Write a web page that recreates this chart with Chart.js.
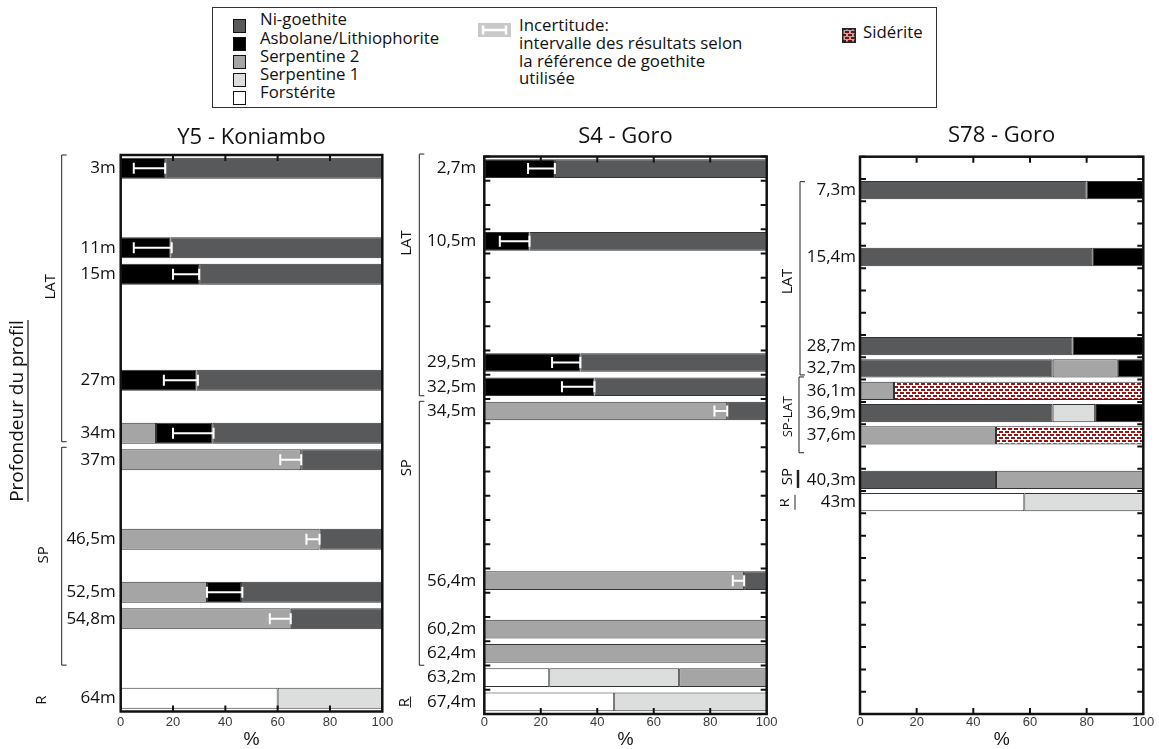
<!DOCTYPE html>
<html>
<head>
<meta charset="utf-8">
<title>Profils</title>
<script src="https://cdn.jsdelivr.net/npm/chart.js"></script>
<style>
  body { margin: 0; background: #fff; width: 1159px; height: 749px; position: relative; overflow: hidden; font-family: 'Open Sans', sans-serif; color: #111; }
  .panel { position: absolute; top: 110px; }
  .panel canvas { display: block; }
  #legend { position: absolute; left: 212px; top: 7px; width: 725px; height: 101px; border: 1px solid #333; box-sizing: border-box; }
  .sw { position: absolute; width: 13px; height: 14px; border: 1px solid #111; box-sizing: border-box; }
  .lt { position: absolute; font-size: 16.8px; line-height: 18px; white-space: nowrap; }
</style>
</head>
<body>

<div id="legend"></div>
<div class="sw" style="left:233px;top:19px;background:#58595b"></div>
<div class="lt" style="left:260px;top:10px">Ni-goethite</div>
<div class="sw" style="left:233px;top:37px;background:#000"></div>
<div class="lt" style="left:260px;top:28.5px">Asbolane/Lithiophorite</div>
<div class="sw" style="left:233px;top:55px;background:#a5a5a5"></div>
<div class="lt" style="left:260px;top:46.5px">Serpentine 2</div>
<div class="sw" style="left:233px;top:73px;background:#dcdddd"></div>
<div class="lt" style="left:260px;top:65px">Serpentine 1</div>
<div class="sw" style="left:233px;top:91px;background:#fff"></div>
<div class="lt" style="left:260px;top:83px">Forstérite</div>

<svg style="position:absolute;left:478px;top:23px" width="33" height="14">
  <rect width="33" height="14" fill="#c8c8c8"/>
  <path d="M5 7H28M5 2.5V11.5M28 2.5V11.5" stroke="#fff" stroke-width="2.5" fill="none"/>
</svg>
<div class="lt" style="left:519px;top:16px;line-height:17.8px">Incertitude:<br>intervalle des résultats selon<br>la référence de goethite<br>utilisée</div>

<canvas id="sidSwatch" width="14" height="15" style="position:absolute;left:842px;top:28px"></canvas>
<div class="lt" style="left:863px;top:23px">Sidérite</div>

<div class="panel" style="left:0px"><canvas id="y5" width="400" height="641"></canvas></div>
<div class="panel" style="left:390px"><canvas id="s4" width="390" height="641"></canvas></div>
<div class="panel" style="left:780px"><canvas id="s78" width="379" height="641"></canvas></div>

<script>
const _ = null;

// Y5 - Koniambo
const y5Labels    = ['3m', '', '', '11m', '15m', '', '', '', '27m', '', '34m', '37m', '', '', '46,5m', '', '52,5m', '54,8m', '', '', '64m'];
const y5Forst     = [_, _, _, _, _, _, _, _, _, _, _, _, _, _, _, _, _, _, _, _, 60];
const y5Serp1     = [_, _, _, _, _, _, _, _, _, _, _, _, _, _, _, _, _, _, _, _, 40];
const y5Serp2     = [_, _, _, _, _, _, _, _, _, _, 13.5, 69, _, _, 76, _, 33, 65, _, _, _];
const y5Asbolane  = [17, _, _, 19, 30, _, _, _, 29, _, 21.5, _, _, _, _, _, 13, _, _, _, _];
const y5Goethite  = [83, _, _, 81, 70, _, _, _, 71, _, 65, 31, _, _, 24, _, 54, 35, _, _, _];
const y5ErrLow    = [5, _, _, 5, 20, _, _, _, 16.5, _, 20, 61, _, _, 71, _, 33, 57, _, _, _];
const y5ErrHigh   = [17, _, _, 19.5, 30, _, _, _, 29.5, _, 35.5, 69, _, _, 76, _, 46.5, 65, _, _, _];

// S4 - Goro
const s4Labels    = ['2,7m', '', '', '10,5m', '', '', '', '', '29,5m', '32,5m', '34,5m', '', '', '', '', '', '', '56,4m', '', '60,2m', '62,4m', '63,2m', '67,4m'];
const s4Forst     = [_, _, _, _, _, _, _, _, _, _, _, _, _, _, _, _, _, _, _, _, _, 23, 46];
const s4Serp1     = [_, _, _, _, _, _, _, _, _, _, _, _, _, _, _, _, _, _, _, _, _, 46, 54];
const s4Serp2     = [_, _, _, _, _, _, _, _, _, _, 86, _, _, _, _, _, _, 92, _, 100, 100, 31, _];
const s4Asbolane  = [25, _, _, 16, _, _, _, _, 34, 39, _, _, _, _, _, _, _, _, _, _, _, _, _];
const s4Goethite  = [75, _, _, 84, _, _, _, _, 66, 61, 14, _, _, _, _, _, _, 8, _, _, _, _, _];
const s4ErrLow    = [15.5, _, _, 5.5, _, _, _, _, 24, 27.5, 81.5, _, _, _, _, _, _, 88, _, _, _, _, _];
const s4ErrHigh   = [25, _, _, 16, _, _, _, _, 34, 39, 86, _, _, _, _, _, _, 92, _, _, _, _, _];

// S78 - Goro
const s78Labels   = ['', '7,3m', '', '', '15,4m', '', '', '', '28,7m', '32,7m', '36,1m', '36,9m', '37,6m', '', '40,3m', '43m', '', '', '', '', '', '', '', '', ''];
const s78Forst    = [_, _, _, _, _, _, _, _, _, _, _, _, _, _, _, 58, _, _, _, _, _, _, _, _, _];
const s78Goethite = [_, 80, _, _, 82, _, _, _, 75, 68, _, 68, _, _, 48, _, _, _, _, _, _, _, _, _, _];
const s78Serp1    = [_, _, _, _, _, _, _, _, _, _, _, 15, _, _, _, 42, _, _, _, _, _, _, _, _, _];
const s78Serp2    = [_, _, _, _, _, _, _, _, _, 23, 12, _, 48, _, 52, _, _, _, _, _, _, _, _, _, _];
const s78Siderite = [_, _, _, _, _, _, _, _, _, _, 88, _, 52, _, _, _, _, _, _, _, _, _, _, _, _];
const s78Asbolane = [_, 20, _, _, 18, _, _, _, 25, 9, _, 17, _, _, _, _, _, _, _, _, _, _, _, _, _];

const C = { goethite: '#58595b', asbolane: '#000000', serp2: '#a5a5a5', serp1: '#dcdddd', forst: '#ffffff' };

function sideritePattern(ctx) {
  const c = document.createElement('canvas');
  c.width = 6; c.height = 6;
  const g = c.getContext('2d');
  g.fillStyle = '#fff'; g.fillRect(0, 0, 6, 6);
  g.fillStyle = '#9a1515';
  g.fillRect(0, 0, 4, 2);
  g.fillRect(3, 3, 3, 2);
  g.fillRect(0, 3, 1, 2);
  return ctx.createPattern(c, 'repeat');
}

// legend swatch for siderite
(function () {
  const g = document.getElementById('sidSwatch').getContext('2d');
  g.fillStyle = sideritePattern(g); g.fillRect(0, 0, 14, 15);
  g.fillStyle = 'rgba(60,0,0,0.35)'; g.fillRect(0, 0, 14, 15);
  g.strokeStyle = '#222'; g.lineWidth = 1.5; g.strokeRect(0.75, 0.75, 12.5, 13.5);
})();

const decor = {
  id: 'decor',
  beforeDatasetsDraw(chart, args, o) {
    if (!o.yTicks) return;
    const { ctx, chartArea: a, scales: { y } } = chart;
    ctx.save();
    ctx.strokeStyle = '#111'; ctx.lineWidth = 2;
    ctx.beginPath();
    for (let i = 0; i <= chart.data.labels.length; i++) {
      const py = y.getPixelForValue(i - 0.5);
      ctx.moveTo(a.left, py); ctx.lineTo(a.left + 6, py);
      ctx.moveTo(a.right - 6, py); ctx.lineTo(a.right, py);
    }
    ctx.stroke();
    ctx.restore();
  },
  afterDatasetsDraw(chart, args, o) {
    const { ctx, chartArea: a, scales: { x, y } } = chart;
    ctx.save();
    // uncertainty intervals
    if (o.errLow) {
      ctx.strokeStyle = '#fff'; ctx.lineWidth = 2;
      o.errLow.forEach((lo, i) => {
        const hi = o.errHigh[i];
        if (lo == null) return;
        const py = y.getPixelForValue(i), x1 = x.getPixelForValue(lo), x2 = x.getPixelForValue(hi);
        ctx.beginPath();
        ctx.moveTo(x1, py); ctx.lineTo(x2, py);
        ctx.moveTo(x1, py - 5.5); ctx.lineTo(x1, py + 5.5);
        ctx.moveTo(x2, py - 5.5); ctx.lineTo(x2, py + 5.5);
        ctx.stroke();
      });
    }
    // inward x ticks, top and bottom
    ctx.strokeStyle = '#111'; ctx.lineWidth = 2;
    ctx.beginPath();
    x.ticks.forEach(t => {
      if (t.value <= 0 || t.value >= 100) return;
      const px = x.getPixelForValue(t.value);
      ctx.moveTo(px, a.top); ctx.lineTo(px, a.top + 6);
      ctx.moveTo(px, a.bottom); ctx.lineTo(px, a.bottom - 6);
    });
    ctx.stroke();
    // frame
    ctx.lineWidth = 2.5;
    ctx.strokeRect(a.left, a.top, a.right - a.left, a.bottom - a.top);
    // profile zones (brackets)
    ctx.strokeStyle = '#222'; ctx.fillStyle = '#111';
    (o.zones || []).forEach(z => {
      if (z.from != null) {
        const y1 = y.getPixelForValue(z.from), y2 = y.getPixelForValue(z.to);
        ctx.lineWidth = z.w || 1;
        ctx.beginPath();
        if (z.serif) {
          ctx.moveTo(z.x + 5, y1); ctx.lineTo(z.x, y1); ctx.lineTo(z.x, y2); ctx.lineTo(z.x + 5, y2);
        } else {
          ctx.moveTo(z.x, y1); ctx.lineTo(z.x, y2);
        }
        ctx.stroke();
      }
      ctx.save();
      ctx.translate(z.lx, y.getPixelForValue(z.ly));
      ctx.rotate(-Math.PI / 2);
      ctx.textAlign = 'center'; ctx.textBaseline = 'middle';
      ctx.font = (z.size || 15) + 'px "Open Sans"';
      ctx.fillText(z.label, 0, 0);
      ctx.restore();
    });
    // depth title
    if (o.depth) {
      const d = o.depth;
      ctx.save();
      ctx.translate(d.lx, y.getPixelForValue(d.ly));
      ctx.rotate(-Math.PI / 2);
      ctx.textAlign = 'center'; ctx.textBaseline = 'middle';
      ctx.font = '19px "Open Sans"';
      ctx.fillText(d.text, 0, 0);
      const w = ctx.measureText(d.text).width;
      ctx.lineWidth = 1.2; ctx.strokeStyle = '#111';
      ctx.beginPath(); ctx.moveTo(-w / 2, 10); ctx.lineTo(w / 2, 10); ctx.stroke();
      ctx.restore();
    }
    ctx.restore();
  }
};

function ds(label, data, color) {
  return { label, data, backgroundColor: color, borderColor: '#333', borderWidth: 1, borderSkipped: false };
}

function panel(id, o) {
  const ctx = document.getElementById(id).getContext('2d');
  return new Chart(ctx, {
    type: 'bar',
    data: { labels: o.labels, datasets: o.datasets },
    options: {
      indexAxis: 'y',
      responsive: false,
      animation: false,
      barPercentage: o.bar,
      categoryPercentage: 1,
      layout: { padding: { left: 0, right: o.padRight, top: 0, bottom: 0 } },
      plugins: {
        legend: { display: false },
        tooltip: { enabled: false },
        title: {
          display: true, text: o.title, fullSize: false, color: '#111',
          font: { family: 'Open Sans', size: 22, weight: 'normal' },
          padding: { top: o.titleTop, bottom: o.titleBottom }
        },
        decor: { errLow: o.errLow, errHigh: o.errHigh, zones: o.zones, yTicks: o.yTicks, depth: o.depth }
      },
      scales: {
        x: {
          type: 'linear', stacked: true, min: 0, max: 100,
          grid: { display: false, drawTicks: false }, border: { display: false },
          ticks: { stepSize: 20, padding: o.xPad, color: '#3a3a3a', font: { family: 'Liberation Sans', size: 13 } },
          title: { display: true, text: '%', color: '#111', font: { family: 'Liberation Sans', size: 18 }, padding: 0 },
          afterFit: s => { s.height = o.xHeight; }
        },
        y: {
          stacked: true,
          grid: { display: false, drawTicks: false }, border: { display: false },
          ticks: { autoSkip: false, padding: o.labelPad, color: '#111', font: { family: 'Open Sans', size: 17 } },
          afterFit: s => { s.width = o.left; }
        }
      }
    },
    plugins: [decor]
  });
}

panel('y5', {
  title: 'Y5 - Koniambo', labels: y5Labels,
  datasets: [
    ds('Forstérite', y5Forst, C.forst),
    ds('Serpentine 1', y5Serp1, C.serp1),
    ds('Serpentine 2', y5Serp2, C.serp2),
    ds('Asbolane/Lithiophorite', y5Asbolane, C.asbolane),
    ds('Ni-goethite', y5Goethite, C.goethite)
  ],
  errLow: y5ErrLow, errHigh: y5ErrHigh,
  bar: 0.79, left: 120.7, padRight: 17.7, xHeight: 39.5, xPad: 2.7, labelPad: 5,
  titleTop: 14.8, titleBottom: 3.8, yTicks: false,
  zones: [
    { label: 'LAT', x: 61.7, from: -0.5, to: 10.32, serif: true, lx: 51, ly: 4.47 },
    { label: 'SP', x: 61.7, from: 10.53, to: 18.75, serif: true, lx: 44, ly: 14.59 },
    { label: 'R', lx: 42, ly: 20.07 }
  ],
  depth: { text: 'Profondeur du profil', lx: 18, ly: 9.16 }
});

panel('s4', {
  title: 'S4 - Goro', labels: s4Labels,
  datasets: [
    ds('Forstérite', s4Forst, C.forst),
    ds('Serpentine 1', s4Serp1, C.serp1),
    ds('Serpentine 2', s4Serp2, C.serp2),
    ds('Asbolane/Lithiophorite', s4Asbolane, C.asbolane),
    ds('Ni-goethite', s4Goethite, C.goethite)
  ],
  errLow: s4ErrLow, errHigh: s4ErrHigh,
  bar: 0.77, left: 94.3, padRight: 13.3, xHeight: 37, xPad: 0.5, labelPad: 8,
  titleTop: 13.3, titleBottom: 6.8, yTicks: true,
  zones: [
    { label: 'LAT', x: 29.3, from: -0.6, to: 9.37, serif: true, lx: 16.7, ly: 3.07 },
    { label: 'SP', x: 29.3, from: 9.6, to: 20.49, serif: true, lx: 17, ly: 12.34 },
    { label: 'R', x: 20.5, from: 21.78, to: 22.23, lx: 15, ly: 22.03 }
  ]
});

const s78Ctx = document.getElementById('s78').getContext('2d');
panel('s78', {
  title: 'S78 - Goro', labels: s78Labels,
  datasets: [
    ds('Forstérite', s78Forst, C.forst),
    ds('Ni-goethite', s78Goethite, C.goethite),
    ds('Serpentine 1', s78Serp1, C.serp1),
    ds('Serpentine 2', s78Serp2, C.serp2),
    ds('Sidérite', s78Siderite, sideritePattern(s78Ctx)),
    ds('Asbolane/Lithiophorite', s78Asbolane, C.asbolane)
  ],
  bar: 0.82, left: 80, padRight: 15.7, xHeight: 37, xPad: 0.5, labelPad: 4,
  titleTop: 12.8, titleBottom: 7.5, yTicks: true,
  zones: [
    { label: 'LAT', x: 20, from: 0.62, to: 9.29, serif: true, lx: 8, ly: 5.1 },
    { label: 'SP-LAT', x: 19, from: 9.38, to: 12.78, serif: true, lx: 8, ly: 11.16, size: 13 },
    { label: 'SP', x: 18, from: 13.55, to: 14.36, w: 2.5, lx: 8, ly: 13.85 },
    { label: 'R', x: 15, from: 14.67, to: 15.34, lx: 5, ly: 15.03 }
  ]
});
</script>
</body>
</html>
